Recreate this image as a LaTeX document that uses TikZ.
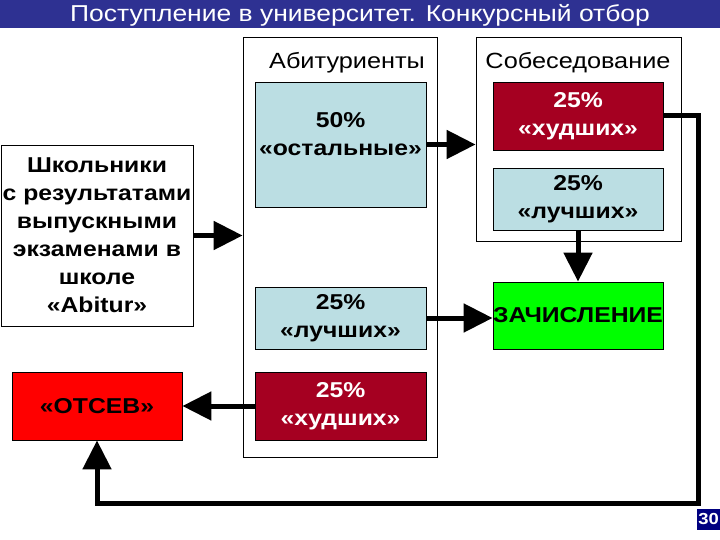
\documentclass[tikz,border=0pt]{standalone}
\usepackage{fontspec}
\setmainfont[FakeStretch=1.15]{Liberation Sans}
\usetikzlibrary{arrows.meta}
\definecolor{titleblue}{RGB}{46,49,146}
\definecolor{paleblue}{RGB}{187,222,227}
\definecolor{darkred}{RGB}{165,0,33}
\definecolor{navyblue}{RGB}{0,0,128}
\begin{document}
\begin{tikzpicture}[x=1pt,y=-1pt,
  box/.style={draw,line width=0.8pt,align=center,inner sep=0pt,
    font=\bfseries\fontsize{21.5}{28}\selectfont},
  frame/.style={draw,line width=0.8pt,inner sep=0pt},
  big/.style={line width=5pt,line join=miter,-{Triangle[length=29pt,width=28pt]}}]
\useasboundingbox (0,0) rectangle (720,540);
\fill[titleblue] (0,0) rectangle (720,28);
\node[text=white,font=\fontsize{23}{23}\selectfont] (title) at (360,15) {Поступление в университет. Конкурсный отбор};

\node[frame,minimum width=194pt,minimum height=420pt] (abit) at (340,247) {};
\node[frame,minimum width=205pt,minimum height=204pt] (sobes) at (578.5,139) {};
\node[font=\fontsize{22}{22}\selectfont] (abitlabel) at (347,63) {Абитуриенты};
\node[font=\fontsize{22}{22}\selectfont] (sobeslabel) at (578,63) {Собеседование};

\node[box,minimum width=192pt,minimum height=181pt,fill=white] (school) at (97,235.5)
  {Школьники\\с результатами\\выпускными\\экзаменами в\\школе\\«Abitur»};
\node[box,minimum width=170pt,minimum height=68pt,fill=red] (otsev) at (97,406) {«ОТСЕВ»};
\node[box,minimum width=171pt,minimum height=125pt,fill=paleblue] (rest) at (340.5,144.5) {50\%\\«остальные»\\[-6pt]};
\node[box,minimum width=171pt,minimum height=62pt,fill=paleblue] (bestL) at (340.5,318) {25\%\\«лучших»};
\node[box,minimum width=171pt,minimum height=68pt,fill=darkred,text=white] (worstL) at (340.5,406) {25\%\\«худших»};
\node[box,minimum width=170pt,minimum height=68pt,fill=darkred,text=white] (worstR) at (578,116) {25\%\\«худших»};
\node[box,minimum width=170pt,minimum height=62pt,fill=paleblue] (bestR) at (578,199) {25\%\\«лучших»};
\node[box,minimum width=170pt,minimum height=67pt,fill=green] (enrol) at (578,315.5) {ЗАЧИСЛЕНИЕ};

\node[fill=navyblue,text=white,font=\bfseries\fontsize{16}{16}\selectfont,minimum width=23pt,minimum height=21pt,inner sep=0pt] (page) at (708.5,519.5) {30};

\coordinate (turn) at (698,503);
\draw[big] (school.east) -- (school.east -| abit.west);
\draw[big] (rest.east) -- (rest.east -| sobes.west);
\draw[big] (bestL.east) -- (bestL.east -| enrol.west);
\draw[big] (worstL.west) -- (otsev.east);
\draw[big] (bestR.south) -- (enrol.north);
\draw[big] (worstR.east) -| (turn) -| (otsev.south);
\end{tikzpicture}
\end{document}
